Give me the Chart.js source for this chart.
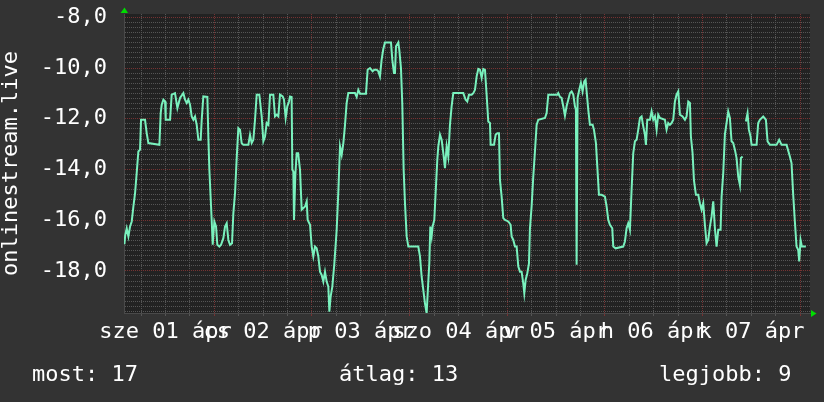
<!DOCTYPE html>
<html>
<head>
<meta charset="utf-8">
<script src="https://cdn.jsdelivr.net/npm/chart.js@4.4.1/dist/chart.umd.min.js"></script>
<style>
    html, body { margin: 0; padding: 0; background: #333333; }
    #wrap { position: relative; width: 824px; height: 402px; overflow: hidden; }
    #chart { position: absolute; left: 0; top: 0; }
    .stat {
        position: absolute;
        top: 361px;
        font: 22px "DejaVu Sans Mono", monospace;
        line-height: 26px;
        color: #ffffff;
        white-space: pre;
    }
</style>
</head>
<body>
<div id="wrap">
    <canvas id="chart" width="824" height="402"></canvas>
</div>
<script>
// hours since 01 ápr 00:00, rank of onlinestream.live
const hours = [
    1.9, 2.1, 2.47, 2.88, 3.29, 3.7, 4.11, 4.52, 4.92, 5.33, 5.74, 5.99, 6.97, 7.38, 7.79, 10.5,
    10.82, 11.07, 11.48, 11.89, 12.05, 13.12, 13.52, 14.34, 14.92, 15.57, 16.39, 16.8, 17.21, 17.62,
    18.03, 18.44, 18.85, 19.26, 19.67, 20.08, 20.65, 20.9, 21.3, 22.29, 22.53, 22.78, 23.35, 23.6,
    24.0, 24.42, 24.74, 25.24, 25.65, 26.22, 26.63, 27.04, 27.45, 27.86, 28.35, 28.68, 29.09, 29.5,
    29.9, 30.31, 30.72, 31.13, 32.36, 32.77, 33.18, 33.59, 34.0, 34.41, 35.06, 35.64, 36.05, 36.46,
    36.87, 37.28, 37.69, 38.5, 38.91, 39.32, 39.73, 40.14, 40.8, 41.12, 41.53, 41.94, 42.35, 42.6,
    43.0, 43.17, 43.42, 43.58, 43.91, 44.24, 44.6, 45.06, 45.47, 46.29, 46.7, 46.94, 47.52, 47.93,
    48.33, 48.74, 49.15, 49.56, 49.97, 50.38, 50.79, 51.2, 51.61, 52.02, 52.27, 52.59, 53.0, 53.5,
    54.07, 54.48, 54.89, 55.3, 55.71, 56.12, 56.52, 56.93, 58.57, 58.98, 59.39, 59.8, 61.27, 61.68,
    62.26, 62.91, 63.32, 63.9, 64.3, 64.71, 65.12, 65.53, 65.94, 67.42, 67.74, 68.15, 68.4, 68.65,
    69.22, 69.46, 69.87, 70.2, 70.53, 70.86, 71.27, 71.68, 74.13, 74.54, 74.95, 75.36, 75.77, 76.18,
    76.59, 76.84, 77.08, 77.41, 77.65, 78.06, 78.39, 78.8, 79.05, 79.46, 79.87, 80.28, 80.69, 81.1,
    81.5, 81.91, 82.32, 82.73, 85.19, 85.76, 86.17, 86.58, 87.24, 87.65, 88.06, 88.47, 88.88, 89.29,
    89.7, 90.11, 90.52, 90.92, 91.33, 91.74, 91.91, 92.73, 93.14, 93.55, 93.96, 94.2, 94.61, 95.02,
    95.43, 96.25, 96.82, 97.07, 97.48, 97.89, 98.3, 98.71, 99.12, 99.52, 99.93, 100.18, 100.51, 100.92,
    101.33, 101.57, 101.98, 102.39, 102.8, 103.21, 103.62, 105.26, 105.67, 106.08, 108.29, 108.53, 108.94, 109.35,
    109.76, 110.17, 110.58, 110.99, 111.4, 111.81, 112.22, 112.63, 112.87, 113.04, 113.28, 113.69, 114.1, 114.51,
    114.92, 115.25, 115.5, 115.9, 116.31, 116.97, 117.3, 117.79, 118.12, 118.53, 119.18, 120.0, 120.41, 120.82,
    121.23, 121.8, 122.05, 122.62, 124.5, 124.91, 125.32, 125.73, 126.14, 126.55, 126.96, 127.37, 127.78, 128.19,
    128.6, 129.01, 129.42, 129.83, 130.07, 130.4, 131.06, 131.47, 131.88, 132.29, 132.7, 133.1, 133.51, 134.74,
    135.15, 135.56, 135.97, 136.38, 136.79, 137.2, 137.61, 138.02, 138.43, 139.08, 139.66, 140.07, 140.48, 140.89,
    141.13, 141.54, 141.87, 142.36, 142.93, 143.34, 143.75, 144.16, 144.57, 144.98, 145.39, 145.8, 146.21, 146.62,
    147.03, 147.44, 147.85, 148.42, 148.67, 149.08, 149.48, 149.89, 150.3, 150.71, 151.12, 151.53, 151.94, 152.35,
    152.76, 153.17, 153.42, 153.83, 154.2, 154.64, 155.05, 155.38, 155.79, 156.04, 157.27, 157.67, 158.08, 158.9,
    159.56, 159.97, 160.54, 162.18, 162.83, 163.41, 164.64, 165.45, 165.86, 166.27, 166.68, 167.09, 167.5, 167.75,
    168.08, 168.4, 169.39
];
const rank = [
    -16.95, -16.6, -16.32, -16.64, -16.25, -16.05, -15.46, -14.93, -14.14, -13.29, -13.22, -12.04, -12.04, -12.57, -12.96, -13.03,
    -11.78, -11.45, -11.25, -11.32, -12.04, -12.04, -11.05, -10.99, -11.58, -11.18, -10.99, -11.25, -11.38, -11.25,
    -11.45, -11.91, -12.04, -11.91, -12.24, -12.83, -12.83, -12.04, -11.12, -11.14, -12.7, -14.01, -15.99, -16.97,
    -16.05, -16.25, -16.97, -17.04, -16.97, -16.71, -16.25, -16.12, -16.78, -16.97, -16.91, -15.72, -14.93, -13.55,
    -12.37, -12.43, -12.96, -13.03, -13.03, -12.63, -12.96, -12.83, -12.04, -11.05, -11.05, -11.91, -12.89, -12.7,
    -12.17, -12.24, -11.05, -11.05, -11.91, -11.84, -11.91, -11.05, -11.12, -11.25, -11.97, -11.51, -11.32, -11.12,
    -11.14, -14.01, -14.08, -15.99, -14.21, -13.36, -13.36, -14.01, -15.59, -15.46, -15.26, -15.99, -16.18, -17.04,
    -17.43, -17.04, -17.11, -17.43, -18.03, -18.16, -18.42, -18.03, -18.42, -18.62, -19.61, -19.01, -18.62, -17.7,
    -16.38, -14.87, -13.09, -13.42, -12.96, -12.24, -11.38, -10.99, -10.99, -11.14, -10.86, -11.01, -11.01, -10.07,
    -10.0, -10.13, -10.07, -10.07, -10.13, -10.33, -9.67, -9.25, -8.99, -8.99, -9.67, -10.2, -10.2, -9.14,
    -8.99, -9.28, -10.0, -11.45, -14.01, -15.33, -16.64, -17.04, -17.04, -17.43, -18.22, -18.75, -19.28, -19.67,
    -18.42, -17.7, -16.25, -16.64, -16.25, -15.99, -14.93, -13.62, -13.09, -12.63, -12.83, -13.36, -13.95, -13.09,
    -13.49, -12.24, -11.51, -10.99, -10.99, -11.25, -11.32, -11.05, -11.05, -10.99, -10.86, -10.33, -10.04, -10.07,
    -10.39, -10.04, -10.07, -11.05, -12.11, -12.17, -13.03, -13.03, -12.63, -12.57, -12.57, -14.41, -15.07, -15.92,
    -15.99, -16.05, -16.18, -16.64, -16.78, -17.04, -17.04, -17.83, -18.03, -18.03, -18.49, -18.88, -18.36, -18.09,
    -17.7, -16.32, -15.46, -14.28, -13.29, -12.24, -12.04, -11.97, -11.78, -11.05, -11.05, -10.99, -11.14, -11.18,
    -11.51, -11.88, -11.51, -11.25, -10.99, -10.92, -11.05, -11.51, -11.64, -17.76, -11.18, -10.86, -10.59, -10.92,
    -10.53, -10.46, -10.92, -11.64, -12.24, -12.24, -12.43, -12.96, -13.88, -15.0, -15.0, -15.07, -15.46, -15.99,
    -16.18, -16.32, -17.04, -17.11, -17.04, -16.84, -16.32, -16.12, -16.38, -14.8, -13.36, -12.89, -12.83, -12.43,
    -11.97, -11.91, -12.3, -12.63, -13.03, -12.04, -12.04, -11.71, -12.04, -11.91, -12.43, -11.84, -11.97, -12.04,
    -12.43, -12.17, -12.24, -12.17, -12.04, -11.32, -11.05, -10.92, -11.84, -11.91, -12.04, -11.91, -11.32, -11.38,
    -12.7, -13.36, -14.41, -15.0, -15.0, -15.33, -15.59, -15.33, -16.18, -16.91, -16.78, -16.25, -15.86, -15.26,
    -16.32, -17.04, -16.38, -16.38, -15.07, -14.14, -12.63, -12.17, -11.71, -11.97, -12.89, -12.96, -13.22, -13.55,
    -14.28, -14.61, -13.55, -13.49, null, -12.11, -11.78, -12.43, -12.7, -13.03, -13.03, -12.17, -12.04, -11.91,
    -12.04, -12.89, -13.03, -13.03, -12.83, -13.03, -13.03, -13.49, -13.75, -15.0, -16.05, -17.04, -17.17, -17.63,
    -16.78, -17.04, -17.04
];

const dayLabels = ['sze 01 ápr', 'cs 02 ápr', 'p 03 ápr', 'szo 04 ápr', 'v 05 ápr', 'h 06 ápr', 'k 07 ápr'];
const dayLabelHours = [12, 36, 60, 84, 108, 132, 156];
const yLabelValues = [-18, -16, -14, -12, -10, -8];

const statNames = ['most', 'átlag', 'legjobb'];
const statValues = [17, 13, 9];

const RED_GRID = '#763232';
const GRAY_GRID = '#555555';
const FONT = 'DejaVu Sans Mono';

Chart.defaults.font.family = FONT;
Chart.defaults.font.size = 22;
Chart.defaults.color = '#ffffff';

const backdrop = {
    id: 'backdrop',
    beforeDraw(chart) {
        const { ctx, chartArea: a } = chart;
        ctx.save();
        ctx.fillStyle = '#333333';
        ctx.fillRect(0, 0, chart.width, chart.height);
        ctx.fillStyle = '#222222';
        ctx.fillRect(a.left, a.top, a.right - a.left, a.bottom - a.top);
        ctx.restore();
    },
    afterDraw(chart) {
        // the little green arrows at the axis ends
        const { ctx, chartArea: a } = chart;
        ctx.save();
        ctx.fillStyle = '#00dd00';
        ctx.beginPath();
        ctx.moveTo(a.left - 3.5, a.top - 1);
        ctx.lineTo(a.left + 4, a.top - 1);
        ctx.lineTo(a.left + 0.5, a.top - 6.5);
        ctx.closePath();
        ctx.fill();
        ctx.beginPath();
        ctx.moveTo(a.right + 1, a.bottom - 3);
        ctx.lineTo(a.right + 1, a.bottom + 4);
        ctx.lineTo(a.right + 6.5, a.bottom + 0.5);
        ctx.closePath();
        ctx.fill();
        ctx.restore();
    }
};

const points = hours.map((h, i) => ({ x: h, y: rank[i] }));

new Chart(document.getElementById('chart'), {
    type: 'line',
    data: {
        datasets: [{
            label: 'onlinestream.live',
            data: points,
            borderColor: '#79f1bd',
            borderWidth: 2,
            pointRadius: 0,
            tension: 0,
            fill: false,
            spanGaps: false
        }]
    },
    options: {
        responsive: false,
        animation: false,
        layout: { padding: { left: 0, right: 14, top: 14, bottom: 59 } },
        plugins: {
            legend: { display: false },
            tooltip: { enabled: false }
        },
        scales: {
            x: {
                type: 'linear',
                min: 1.8,
                max: 170.4,
                afterBuildTicks: scale => {
                    const ticks = [];
                    for (let h = 6; h <= 168; h += 6) ticks.push({ value: h });
                    scale.ticks = ticks;
                },
                afterFit: scale => {
                    scale.height = 30;
                    scale.paddingLeft = 0;
                    scale.paddingRight = 0;
                },
                grid: {
                    color: c => (c.tick && c.tick.value % 24 === 0 ? RED_GRID : GRAY_GRID),
                    tickColor: c => (c.tick && c.tick.value % 24 === 0 ? RED_GRID : GRAY_GRID),
                    tickLength: 3,
                    drawTicks: true
                },
                border: { display: true, color: '#4a4a4a', dash: [1, 1] },
                ticks: {
                    autoSkip: false,
                    maxRotation: 0,
                    minRotation: 0,
                    padding: 3,
                    color: '#ffffff',
                    callback: value => {
                        const i = dayLabelHours.indexOf(value);
                        return i >= 0 ? dayLabels[i] : '';
                    }
                }
            },
            y: {
                type: 'linear',
                min: -19.66,
                max: -7.87,
                afterBuildTicks: scale => {
                    const ticks = [];
                    for (let k = -98; k <= -40; k++) ticks.push({ value: k / 5 });
                    scale.ticks = ticks;
                },
                afterFit: scale => {
                    scale.width = 124;
                    scale.paddingTop = 0;
                    scale.paddingBottom = 0;
                },
                grid: {
                    color: c => (c.tick && yLabelValues.includes(Math.round(c.tick.value * 5) / 5) ? RED_GRID : GRAY_GRID),
                    drawTicks: false
                },
                border: { display: true, color: '#4a4a4a', dash: [1, 1] },
                title: {
                    display: true,
                    text: 'onlinestream.live',
                    color: '#ffffff',
                    padding: { top: -2, bottom: 0 }
                },
                ticks: {
                    autoSkip: false,
                    padding: 17,
                    color: '#ffffff',
                    callback: value => {
                        const v = Math.round(value * 5) / 5;
                        return yLabelValues.includes(v) ? v.toFixed(1).replace('.', ',') : '';
                    }
                }
            }
        }
    },
    plugins: [backdrop]
});

// summary line under the graph
const wrap = document.getElementById('wrap');
const statLefts = [32, 339, 659];
statNames.forEach((name, i) => {
    const div = document.createElement('div');
    div.className = 'stat';
    div.style.left = statLefts[i] + 'px';
    div.textContent = `${name}: ${statValues[i]}`;
    wrap.appendChild(div);
});
</script>
</body>
</html>
